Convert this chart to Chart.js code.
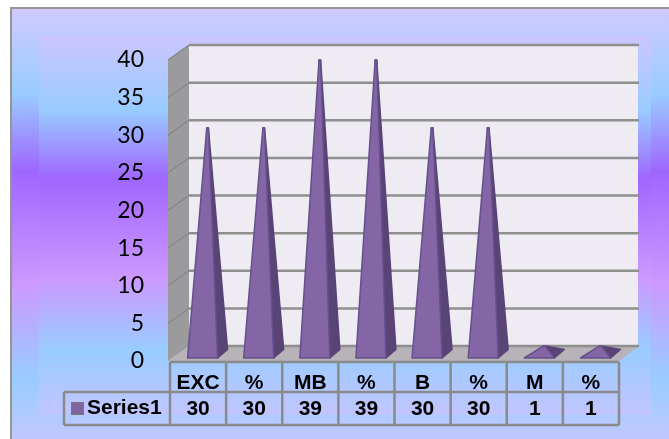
<!DOCTYPE html>
<html>
<head>
<meta charset="utf-8">
<script src="https://cdn.jsdelivr.net/npm/chart.js@4"></script>
<style>
    html, body { margin: 0; padding: 0; background: #fff; overflow: hidden; }
    #outer {
        position: absolute; left: 10px; top: 7px; width: 659px; height: 432px;
        box-sizing: border-box; border-top: 2px solid #969696; border-left: 2px solid #969696;
        background: linear-gradient(180deg, #cfcaff 0px, #99ccff 85px, #9f66ff 162px, #cc99ff 275px, #99ccff 370px, #c2c8ff 432px);
    }
    #inner {
        position: absolute; left: 39px; top: 36px; width: 612px; height: 379px;
        background: linear-gradient(180deg, #ccc5ff 0px, #99ccff 74px, #a066ff 143px, #cc99ff 242px, #99ccff 314px, #c2c5ff 379px);
    }
    #wrap { position: absolute; left: 0; top: 0; width: 669px; height: 439px; }
</style>
</head>
<body>
<div id="outer"></div>
<div id="inner"></div>
<div id="wrap"><canvas id="chart" width="669" height="439"></canvas></div>
<script>
const categories = ['EXC', '%', 'MB', '%', 'B', '%', 'M', '%'];
const seriesName = 'Series1';
const seriesValues = [30, 30, 39, 39, 30, 30, 1, 1];

// depth of the fake 3d box
const depthX = 19;
const depthY = 15;
const tableFont = 'bold 21px "Liberation Sans", Arial, sans-serif';

function line(ctx, x1, y1, x2, y2) {
    ctx.beginPath();
    ctx.moveTo(x1, y1);
    ctx.lineTo(x2, y2);
    ctx.stroke();
}

function poly(ctx, pts, fill, stroke, width) {
    ctx.beginPath();
    pts.forEach((p, i) => i ? ctx.lineTo(p[0], p[1]) : ctx.moveTo(p[0], p[1]));
    ctx.closePath();
    ctx.fillStyle = fill;
    ctx.fill();
    if (stroke) {
        ctx.strokeStyle = stroke;
        ctx.lineWidth = width || 1;
        ctx.lineJoin = 'round';
        ctx.stroke();
    }
}

const boxPlugin = {
    id: 'box3d',
    beforeDatasetsDraw(chart) {
        const { ctx, chartArea: a, scales: { y } } = chart;
        ctx.save();
        // side wall, back wall, floor
        poly(ctx, [[a.left - 2, a.top], [a.left + depthX, a.top - depthY], [a.left + depthX, a.bottom - depthY], [a.left - 2, a.bottom]], '#9b9a9c');
        poly(ctx, [[a.left + depthX, a.top - depthY], [a.right + depthX, a.top - depthY], [a.right + depthX, a.bottom - depthY], [a.left + depthX, a.bottom - depthY]], '#eeebf3');
        poly(ctx, [[a.left - 2, a.bottom], [a.left + depthX, a.bottom - depthY], [a.right + depthX + 1, a.bottom - depthY], [a.right, a.bottom]], '#b7b3b8');

        y.ticks.forEach(t => {
            const py = y.getPixelForValue(t.value);
            ctx.strokeStyle = '#858585';
            ctx.lineWidth = 1.2;
            if (t.value > 0) line(ctx, a.left - 2, py, a.left + depthX, py - depthY);
            ctx.strokeStyle = '#8f8f8f';
            ctx.lineWidth = 2.5;
            line(ctx, a.left + depthX, py - depthY, a.right + depthX + 1, py - depthY);
        });
        ctx.restore();
    },
    afterDatasetsDraw(chart) {
        const { ctx } = chart;
        const meta = chart.getDatasetMeta(0);
        ctx.save();
        meta.data.forEach(bar => {
            const cx = bar.x + depthX / 2;
            const baseY = bar.base - depthY / 2;
            const topY = bar.y - depthY / 2;
            const fl = [cx - 20, baseY + 4.5];
            const fr = [cx + 10, baseY + 4.5];
            const br = [cx + 20, baseY - 4];
            const apexL = [cx - 0.8, topY];
            const apexR = [cx + 0.8, topY];
            poly(ctx, [fr, br, apexR, apexL], '#5a4376', '#5a4376', 1.5);
            poly(ctx, [fl, fr, apexR, apexL], '#8466a6', '#65508c', 1.5);
        });
        ctx.restore();
    },
    afterDraw(chart) {
        const { ctx, chartArea: a, scales: { x } } = chart;
        const rowTop = a.bottom + 1;
        const rowMid = 392;
        const rowBottom = 425;
        const legendLeft = 64;
        ctx.save();
        ctx.strokeStyle = '#8a8a8a';
        ctx.lineWidth = 2.5;
        line(ctx, a.left, rowTop, a.right, rowTop);
        line(ctx, legendLeft, rowMid, a.right, rowMid);
        line(ctx, legendLeft, rowBottom, a.right, rowBottom);
        line(ctx, legendLeft, rowMid, legendLeft, rowBottom);
        for (let i = 0; i <= categories.length; i++) {
            const px = a.left + i * (a.right - a.left) / categories.length;
            line(ctx, px, rowTop, px, rowBottom);
        }

        ctx.fillStyle = '#000';
        ctx.font = tableFont;
        ctx.textAlign = 'center';
        ctx.textBaseline = 'middle';
        seriesValues.forEach((v, i) => ctx.fillText(String(v), x.getPixelForValue(i), 409));

        // legend key + series name
        ctx.fillStyle = '#8064a2';
        ctx.strokeStyle = '#77767b';
        ctx.lineWidth = 1;
        ctx.fillRect(71.5, 402.5, 12, 12);
        ctx.strokeRect(71.5, 402.5, 12, 12);
        ctx.fillStyle = '#000';
        ctx.textAlign = 'left';
        ctx.fillText(seriesName, 87, 408);
        ctx.restore();
    }
};

new Chart(document.getElementById('chart').getContext('2d'), {
    type: 'bar',
    data: {
        labels: categories,
        datasets: [{
            label: seriesName,
            data: seriesValues,
            backgroundColor: 'transparent',
            borderWidth: 0
        }]
    },
    options: {
        responsive: false,
        animation: false,
        layout: { padding: { left: 0, right: 50, top: 60, bottom: 0 } },
        plugins: { legend: { display: false }, tooltip: { enabled: false } },
        scales: {
            y: {
                min: 0,
                max: 40,
                afterFit(scale) {
                    scale.width = 170;
                    scale.paddingTop = 0;
                    scale.paddingBottom = 0;
                },
                border: { display: false },
                grid: { display: false, drawTicks: false },
                ticks: {
                    stepSize: 5,
                    padding: 26,
                    color: '#000',
                    font: { family: 'Lato', size: 23 }
                }
            },
            x: {
                afterFit(scale) {
                    scale.height = 78;
                    scale.paddingLeft = 0;
                    scale.paddingRight = 0;
                },
                border: { display: false },
                grid: { display: false, drawTicks: false },
                ticks: {
                    padding: 10,
                    maxRotation: 0,
                    autoSkip: false,
                    color: '#000',
                    font: { family: '"Liberation Sans"', size: 21, weight: 'bold' }
                }
            }
        }
    },
    plugins: [boxPlugin]
});
</script>
</body>
</html>
